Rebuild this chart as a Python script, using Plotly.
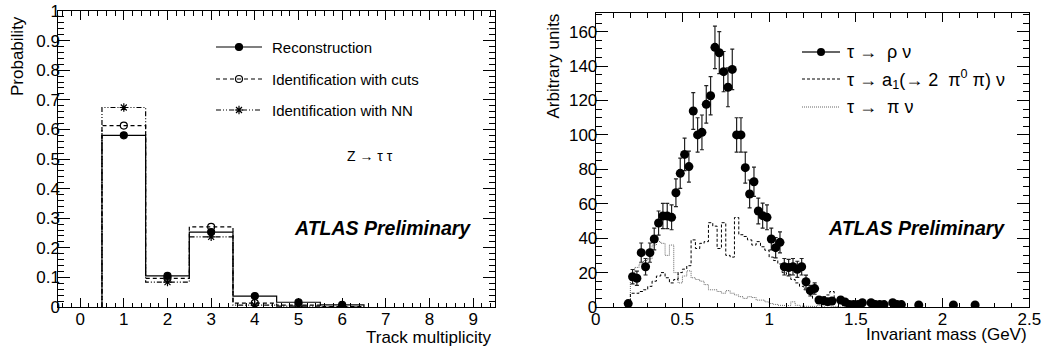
import plotly.graph_objects as go

# ---------------- data: left panel (track multiplicity) ----------------
track_bins = [1, 2, 3, 4, 5, 6]
prob_reco = [0.580, 0.105, 0.253, 0.037, 0.016, 0.007]
prob_cuts = [0.613, 0.097, 0.271, 0.013, 0.006, 0.001]
prob_nn = [0.674, 0.084, 0.237, 0.006, 0.003, 0.000]

# ---------------- data: right panel (invariant mass) ----------------
rho_x = [0.1875, 0.2125, 0.2375, 0.2625, 0.2875, 0.3125, 0.3375, 0.3625, 0.3875, 0.4125,
         0.4375, 0.4625, 0.4875, 0.5125, 0.5375, 0.5625, 0.5875, 0.6125, 0.6375, 0.6625,
         0.6875, 0.7125, 0.7375, 0.7625, 0.7875, 0.8125, 0.8375, 0.8625, 0.8875, 0.9125,
         0.9375, 0.9625, 0.9875, 1.0125, 1.0375, 1.0625, 1.0875, 1.1125, 1.1375, 1.1625,
         1.1875, 1.2125, 1.2375, 1.2625, 1.2875, 1.3125, 1.3375, 1.3625, 1.4125, 1.4375,
         1.4625, 1.4875, 1.5125, 1.5375, 1.5875, 1.6125, 1.6375, 1.6625, 1.7125, 1.7375,
         1.7625, 1.8625, 2.0625, 2.1875]
rho_y = [2, 17.6, 16.7, 31.6, 23.4, 31.6, 39.5, 48.8, 52.9, 52.9,
         52.1, 66.4, 77.7, 88.7, 81.6, 113.9, 100, 101.5, 117.8, 122.8,
         150.9, 147.8, 136.8, 127.7, 138.1, 100, 100, 81, 65.7, 72.8,
         55.8, 53.1, 52.1, 39.5, 34.5, 37.6, 23.4, 22.9, 23.4, 21.9,
         23.4, 14.7, 9.5, 10.7, 4.1, 3.7, 3.1, 3.5, 4.1, 2.9,
         1.5, 1.5, 1.5, 2.5, 2.5, 1.4, 1.4, 1.4, 2.5, 1.4,
         1.4, 1.2, 1.2, 1.2]
rho_err = [1.4, 4.2, 4.1, 5.6, 4.8, 5.6, 6.3, 7.0, 7.3, 7.3,
           7.2, 8.1, 8.8, 9.4, 9.0, 10.7, 10.0, 10.1, 10.9, 11.1,
           12.3, 12.2, 11.7, 11.3, 11.8, 10.0, 10.0, 9.0, 8.1, 8.5,
           7.5, 7.3, 7.2, 6.3, 5.9, 6.1, 4.8, 4.8, 4.8, 4.7,
           4.8, 3.8, 3.1, 3.3, 2.0, 1.9, 1.8, 1.9, 2.0, 1.7,
           1.2, 1.2, 1.2, 1.6, 1.6, 1.2, 1.2, 1.2, 1.6, 1.2,
           1.2, 1.1, 1.1, 1.1]

mass_bin_lo = [0.200, 0.225, 0.250, 0.275, 0.300, 0.325, 0.350, 0.375, 0.400, 0.425,
               0.450, 0.475, 0.500, 0.525, 0.550, 0.575, 0.600, 0.625, 0.650, 0.675,
               0.700, 0.725, 0.750, 0.775, 0.800, 0.825, 0.850, 0.875, 0.900, 0.925,
               0.950, 0.975, 1.000, 1.025, 1.050, 1.075, 1.100, 1.125, 1.150, 1.175,
               1.200, 1.225, 1.250, 1.275, 1.300, 1.325, 1.350, 1.375, 1.400, 1.425,
               1.450]
mass_bin_width = 0.025
a1_vals = [8, 8, 9, 10, 12, 15, 18, 20, 17, 14,
           16, 20, 22, 24, 39, 34, 37, 38, 49, 47,
           34, 49, 30, 29, 52, 42, 41, 39, 36, 38,
           35, 33, 29, 27, 25, 20, 19, 16, 14, 12,
           10, 8, 5, 6, 6, 7, 9, 4, 2, 1,
           1]
pi_vals = [16, 23, 25, 27, 28, 36, 38, 37, 30, 36,
           20, 14, 18, 21, 17, 16, 15, 13, 10, 10,
           9, 8, 9.5, 8, 7, 6, 5, 6, 5.5, 4,
           4, 3, 2, 1.5, 1, 1, 0.8, 3, 1, 0.5,
           0.5, 0.5, 0.3, 1, 0.5, 2, 0.5, 0.3, 0, 0,
           0]

FONT = "Liberation Sans"
W, H = 1044, 348


def steps(lo_edges, width, vals):
    xs, ys = [lo_edges[0]], [0]
    for lo, v in zip(lo_edges, vals):
        xs += [lo, lo + width]
        ys += [v, v]
    xs.append(lo_edges[-1] + width)
    ys.append(0)
    return xs, ys


def px(x):
    return x / W


def py(y):
    return 1 - y / H


fig = go.Figure()

# ---- left panel histograms ----
left_lo = [b - 0.5 for b in track_bins]
hist_styles = [
    (prob_reco, "solid", "circle"),
    (prob_cuts, "4px,3px", "circle-open"),
    (prob_nn, "5px,2px,1px,2px,1px,2px", "asterisk-open"),
]
for vals, dash, sym in hist_styles:
    xs, ys = steps(left_lo, 1.0, vals)
    fig.add_trace(go.Scatter(x=xs, y=ys, mode="lines", xaxis="x", yaxis="y",
                             line=dict(color="black", width=1.2, dash=dash),
                             showlegend=False, hoverinfo="skip"))
for vals, dash, sym in hist_styles:
    fig.add_trace(go.Scatter(x=track_bins, y=vals, mode="markers", xaxis="x", yaxis="y",
                             marker=dict(symbol=sym, size=7, color="black",
                                         line=dict(color="black", width=1.2)),
                             showlegend=False))

# ---- right panel ----
xs, ys = steps(mass_bin_lo, mass_bin_width, pi_vals)
fig.add_trace(go.Scatter(x=xs, y=ys, mode="lines", xaxis="x2", yaxis="y2",
                         line=dict(color="#666666", width=1, dash="1px,1px"),
                         showlegend=False, hoverinfo="skip"))
xs, ys = steps(mass_bin_lo, mass_bin_width, a1_vals)
fig.add_trace(go.Scatter(x=xs, y=ys, mode="lines", xaxis="x2", yaxis="y2",
                         line=dict(color="black", width=1, dash="3px,2px"),
                         showlegend=False, hoverinfo="skip"))
fig.add_trace(go.Scatter(x=rho_x, y=rho_y, mode="markers", xaxis="x2", yaxis="y2",
                         marker=dict(symbol="circle", size=9, color="black"),
                         error_y=dict(type="data", array=rho_err, visible=True,
                                      color="#222222", thickness=1.2, width=2),
                         showlegend=False))

# ---- legend samples (on a full-figure helper axis) ----
for yy, dash, sym in [(47, "solid", "circle"), (79, "4px,3px", "circle-open"),
                      (110, "5px,2px,1px,2px,1px,2px", "asterisk-open")]:
    fig.add_trace(go.Scatter(x=[px(216), px(262)], y=[py(yy), py(yy)], mode="lines",
                             xaxis="x3", yaxis="y3", line=dict(color="black", width=1.2, dash=dash),
                             showlegend=False, hoverinfo="skip"))
    fig.add_trace(go.Scatter(x=[px(239)], y=[py(yy)], mode="markers", xaxis="x3", yaxis="y3",
                             marker=dict(symbol=sym, size=7, color="black",
                                         line=dict(color="black", width=1.2)),
                             showlegend=False, hoverinfo="skip"))
fig.add_trace(go.Scatter(x=[px(802), px(840)], y=[py(52), py(52)], mode="lines",
                         xaxis="x3", yaxis="y3", line=dict(color="#666666", width=2),
                         showlegend=False, hoverinfo="skip"))
fig.add_trace(go.Scatter(x=[px(821)], y=[py(52)], mode="markers", xaxis="x3", yaxis="y3",
                         marker=dict(symbol="circle", size=8, color="black"),
                         showlegend=False, hoverinfo="skip"))
fig.add_trace(go.Scatter(x=[px(802), px(840)], y=[py(79), py(79)], mode="lines",
                         xaxis="x3", yaxis="y3", line=dict(color="black", width=1, dash="3px,2px"),
                         showlegend=False, hoverinfo="skip"))
fig.add_trace(go.Scatter(x=[px(802), px(840)], y=[py(107), py(107)], mode="lines",
                         xaxis="x3", yaxis="y3", line=dict(color="#666666", width=1, dash="1px,1px"),
                         showlegend=False, hoverinfo="skip"))

TF = 17
axis_common = dict(showgrid=False, zeroline=False, showline=True, linecolor="black",
                   linewidth=1, mirror="allticks", ticks="inside", tickcolor="black",
                   automargin=False,
                   tickfont=dict(family=FONT, size=TF, color="black"))

fig.update_layout(
    width=W, height=H, margin=dict(l=0, r=0, t=0, b=0, pad=0),
    paper_bgcolor="white", plot_bgcolor="rgba(0,0,0,0)",
    font=dict(family=FONT, color="black"),
    xaxis=dict(domain=[px(58.3), px(495)], range=[-0.5, 9.5], anchor="y",
               tickvals=[0, 1, 2, 3, 4, 5, 6, 7, 8, 9], ticklen=9, ticklabelstandoff=-3,
               minor=dict(dtick=0.2, tick0=0, ticklen=4.5, ticks="inside", tickcolor="black"),
               **axis_common),
    yaxis=dict(domain=[py(307), py(11)], range=[0, 1], anchor="x",
               tickvals=[0, 0.1, 0.2, 0.3, 0.4, 0.5, 0.6, 0.7, 0.8, 0.9, 1],
               ticktext=["0", "0.1", "0.2", "0.3", "0.4", "0.5", "0.6", "0.7", "0.8", "0.9", "1"],
               ticklen=12, ticklabelstandoff=-6,
               minor=dict(dtick=0.02, tick0=0, ticklen=6, ticks="inside", tickcolor="black"),
               **axis_common),
    xaxis2=dict(domain=[px(595.7), px(1029.3)], range=[0, 2.5], anchor="y2",
                tickvals=[0, 0.5, 1, 1.5, 2, 2.5], ticktext=["0", "0.5", "1", "1.5", "2", "2.5"],
                ticklen=9, ticklabelstandoff=-3,
                minor=dict(dtick=0.1, tick0=0, ticklen=4.5, ticks="inside", tickcolor="black"),
                **axis_common),
    yaxis2=dict(domain=[py(307), py(13.3)], range=[0, 170.7], anchor="x2",
                tickvals=[0, 20, 40, 60, 80, 100, 120, 140, 160], ticklen=12, ticklabelstandoff=-6,
                minor=dict(dtick=5, tick0=0, ticklen=6, ticks="inside", tickcolor="black"),
                **axis_common),
    xaxis3=dict(domain=[0, 1], range=[0, 1], visible=False, anchor="y3", automargin=False),
    yaxis3=dict(domain=[0, 1], range=[0, 1], visible=False, anchor="x3", automargin=False),
)

ann = []
ann.append(dict(text="Probability", x=px(17), y=py(14), textangle=-90,
                xanchor="center", yanchor="top", font=dict(size=17)))
ann.append(dict(text="Track multiplicity", x=px(493), y=py(337),
                xanchor="right", yanchor="middle", font=dict(size=17)))
ann.append(dict(text="Arbitrary units", x=px(553), y=py(12), textangle=-90,
                xanchor="center", yanchor="top", font=dict(size=17)))
ann.append(dict(text="Invariant mass (GeV)", x=px(1029), y=py(334),
                xanchor="right", yanchor="middle", font=dict(size=17)))
ann.append(dict(text="<b><i>ATLAS Preliminary</i></b>", x=px(292), y=py(228),
                xanchor="left", yanchor="middle", font=dict(size=19.5)))
ann.append(dict(text="<b><i>ATLAS Preliminary</i></b>", x=px(826), y=py(228),
                xanchor="left", yanchor="middle", font=dict(size=19.5)))
ann.append(dict(text="Z → τ τ", x=px(345), y=py(156),
                xanchor="left", yanchor="middle", font=dict(size=14)))
for yy, t in [(47, "Reconstruction"), (79, "Identification with cuts"), (110, "Identification with NN")]:
    ann.append(dict(text=t, x=px(270), y=py(yy), xanchor="left", yanchor="middle",
                    font=dict(size=15)))
for yy, t in [(52, "τ →  ρ ν"), (79, "τ → a<sub>1</sub>(→ 2  π<sup>0</sup> π) ν"), (107, "τ →  π ν")]:
    ann.append(dict(text=t, x=px(845), y=py(yy), xanchor="left", yanchor="middle",
                    font=dict(size=18)))
for a in ann:
    a.update(xref="paper", yref="paper", showarrow=False)
    a["font"].update(family=FONT, color="black")
fig.update_layout(annotations=ann)

fig.write_html("out.html", config={"displayModeBar": False},
               post_script="document.body.style.margin='0';document.body.style.overflow='hidden';")
